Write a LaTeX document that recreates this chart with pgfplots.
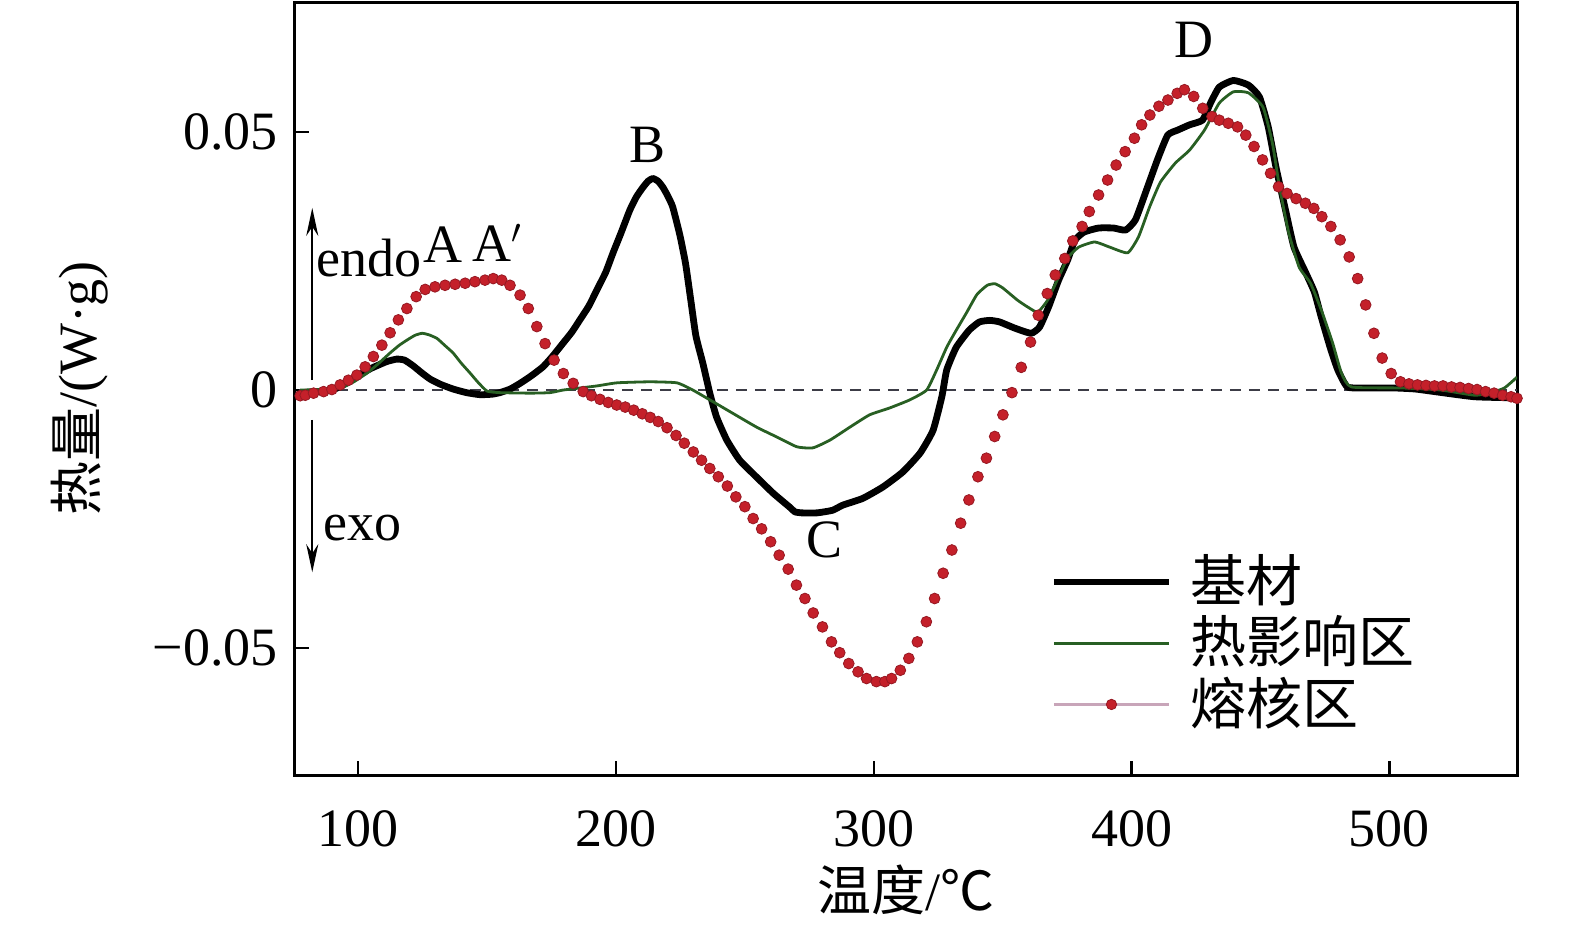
\documentclass[border=0pt]{standalone}
\usepackage{fontspec}
\setmainfont{Liberation Serif}
\newfontfamily\cjk{Noto Sans CJK SC}
\usepackage{pgfplots}
\pgfplotsset{compat=1.18}
\usetikzlibrary{arrows.meta}
\definecolor{grn}{RGB}{40,95,35}
\definecolor{reddot}{RGB}{196,32,42}
\definecolor{rededge}{RGB}{150,25,35}
\definecolor{mauve}{RGB}{200,165,185}
\definecolor{dashgray}{RGB}{60,60,70}

\pgfplotstableread{
T v
77.5 -0.0005
85 -0.0003
90 0.0
95 0.0012
100 0.0028
105 0.0042
111 0.0055
115 0.006
118 0.0058
121.3 0.0047
125 0.0032
128 0.0021
132 0.0011
136.8 0.0002
142 -0.0005
147.3 -0.0009
152 -0.0008
155 -0.0005
159 0.0002
162.8 0.0013
167 0.0027
171.7 0.0045
175.5 0.0066
179.5 0.0091
183 0.0113
186 0.0136
189.5 0.0163
192.6 0.0194
196 0.0228
198.8 0.0265
202 0.0305
205.4 0.0349
208 0.0375
210.5 0.0393
212.5 0.0405
214.3 0.041
216.3 0.0405
218.2 0.0393
220 0.0377
222 0.0355
224.8 0.030
227 0.0245
229 0.0175
231 0.0105
233.7 0.0052
236.4 -0.0006
239 -0.0052
243 -0.0097
248 -0.0136
254.6 -0.0169
261 -0.02
267.4 -0.0227
269.4 -0.0236
272 -0.0238
278 -0.0238
284 -0.0233
288 -0.0223
295.7 -0.021
303.5 -0.0188
311.2 -0.0159
318 -0.0122
323 -0.0078
326.4 -0.0013
328.3 0.0039
332 0.0083
337 0.0116
341 0.0132
345 0.0135
348.8 0.0132
354.7 0.012
361 0.011
364.3 0.0122
367.8 0.0161
371.7 0.0213
375.2 0.0252
378 0.029
381.5 0.0306
387.2 0.0314
393 0.0314
397.7 0.031
401.5 0.033
405.8 0.0388
410 0.0446
414 0.0494
418 0.0504
422.5 0.0514
427.5 0.0523
430.6 0.0556
434 0.0587
439.5 0.060
445.3 0.0591
449.6 0.0568
453 0.051
456 0.0432
459.7 0.0349
463 0.0277
467.4 0.0229
470.9 0.019
473.6 0.0141
477 0.0083
480 0.0039
483.7 0.0006
490.7 0.0004
502 0.0004
510 0.0002
519 -0.0004
533 -0.0013
547.7 -0.0015
549.5 -0.0015
}\base

\pgfplotstableread{
T v
77.5 0.0
85 0.0001
93 0.0004
98 0.0015
103.5 0.0033
108 0.0052
112.4 0.0072
116 0.0087
119 0.0097
122 0.0106
124.8 0.011
127.5 0.0107
130.6 0.010
133.5 0.0087
136.8 0.0072
140 0.0052
143.4 0.0033
146.5 0.0015
150 -0.0002
155 -0.0005
166.7 -0.0006
174.4 -0.0005
179.5 0.0
186 0.0004
192.6 0.0008
200.4 0.0014
213 0.0016
223.6 0.0014
229.8 0.0
236.4 -0.0019
245.3 -0.0045
254.6 -0.0072
262.4 -0.0091
270.2 -0.011
276.4 -0.0112
283 -0.0097
290.7 -0.0072
298.4 -0.0048
306 -0.0035
314 -0.0019
320.5 0.0
324.4 0.0039
328.3 0.0083
332 0.0116
336 0.015
340 0.0185
344 0.0203
347 0.0206
350 0.0198
355.8 0.0174
360 0.016
363.6 0.0151
367.4 0.0174
371.7 0.0219
375.2 0.0256
379.5 0.0277
385.7 0.0287
391.5 0.0277
398.5 0.0266
402.7 0.0297
407 0.0355
411.2 0.0403
417 0.044
422.5 0.0465
428.3 0.0504
434 0.0556
439.5 0.0578
445.3 0.0576
451 0.0548
454.6 0.0479
457.4 0.0393
461 0.0304
465 0.0238
469.4 0.0207
473.6 0.0155
478 0.0091
481.4 0.0033
485.3 0.0006
505 0.0004
520 0.0
533 -0.001
538.9 -0.0006
544.6 0.0004
549.5 0.0025
}\haz

\pgfplotstableread{
T v
77.5 -0.0011
79.5 -0.001
82.7 -0.0006
86.6 -0.0003
89.8 0.0001
93 0.001
96.2 0.0019
99.5 0.0029
102.7 0.0045
105.9 0.0065
109.2 0.0087
112.4 0.0111
115.6 0.0136
118.9 0.0158
122.5 0.0181
126 0.0195
129.8 0.020
133.7 0.0203
137.6 0.0205
141.5 0.0207
145.3 0.021
149.2 0.0213
152.4 0.0216
155.7 0.0213
158.9 0.0203
162.8 0.0184
166 0.0158
169.3 0.0123
172.5 0.009
176 0.0058
179.6 0.0032
183.4 0.0013
187.3 -0.0003
190.5 -0.0011
193.8 -0.0018
197 -0.0024
200.3 -0.0029
203.6 -0.0033
206.9 -0.0039
210.2 -0.0046
213.3 -0.0053
216.4 -0.0061
219.8 -0.0073
223.3 -0.0088
226.5 -0.0103
230 -0.012
233.2 -0.0136
236.4 -0.0152
239.7 -0.0168
243.2 -0.0186
246.5 -0.0207
250 -0.0226
253.2 -0.0249
256.5 -0.0269
260 -0.0294
263.3 -0.032
266.8 -0.0347
270 -0.0378
273.3 -0.0404
276.5 -0.0432
280.1 -0.0459
283.6 -0.0488
286.8 -0.0509
290.3 -0.053
293.9 -0.0546
297.2 -0.0559
301 -0.0565
304.3 -0.0565
306.9 -0.0559
310.3 -0.0543
313.6 -0.052
316.9 -0.0488
320.4 -0.0449
323.6 -0.0404
326.9 -0.0355
330.3 -0.031
333.7 -0.0258
336.9 -0.0213
340.4 -0.0168
343.7 -0.0132
346.9 -0.009
350.1 -0.0048
353.6 -0.0005
357.2 0.0044
360.8 0.0093
363.8 0.0145
367.3 0.0187
370.4 0.0223
374.1 0.0255
377.2 0.0289
380.8 0.0317
383.6 0.0346
387.2 0.0378
390.7 0.0407
394 0.0436
397.5 0.0462
401.1 0.0488
403.9 0.0514
407.1 0.0533
410.6 0.055
414.1 0.0562
417.7 0.0575
420.5 0.0582
424.1 0.0569
427.6 0.0546
431.2 0.053
434 0.0523
437.5 0.0517
441.1 0.051
444.3 0.0494
447.5 0.0472
450.8 0.0446
453.9 0.042
457 0.0394
460.3 0.0381
463.8 0.0371
467.4 0.0362
470.7 0.0352
473.8 0.0336
477.3 0.0317
480.9 0.0291
484.4 0.0258
487.7 0.0216
490.8 0.0165
494 0.011
497.2 0.0062
500.7 0.0032
504.3 0.0016
507.6 0.0012
510.9 0.001
514.2 0.0009
517.5 0.0008
520.8 0.0008
524.1 0.0006
527.4 0.0005
530.7 0.0003
534 0.0001
537.3 -0.0003
540.6 -0.0006
543.9 -0.001
547.2 -0.0013
549.5 -0.0016
}\fz

\begin{document}
\fontsize{27}{32}\selectfont
\begin{tikzpicture}
\begin{axis}[
  at={(0pt,0pt)}, anchor=south west,
  scale only axis, width=611pt, height=386.5pt,
  xmin=75.5, xmax=549.5, ymin=-0.0746, ymax=0.0752,
  clip mode=individual,
  axis line style={line width=1.5pt},
  xtick={100,200,300,400,500}, xticklabels={100,200,300,400,500},
  ytick={-0.05,0,0.05}, yticklabels={−0.05,0,0.05},
  tick align=inside, xtick pos=left, ytick pos=left,
  major tick length=7pt,
  every tick/.style={line width=1.2pt, black},
  xticklabel style={anchor=center, yshift=-27pt},
  yticklabel style={anchor=east, inner sep=0pt, xshift=-8.5pt},
  legend style={at={(axis description cs:0.618,0.286)}, anchor=north west,
    draw=none, fill=none, inner sep=0pt, row sep=3pt, column sep=9pt,
    font=\cjk\fontsize{28}{32}\selectfont,
    nodes={inner sep=0pt}},
  legend cell align=left,
  legend image code/.code={\draw[#1] (0pt,0pt) -- (57.5pt,0pt);},
]
\addplot[dashgray, line width=1pt, dash pattern=on 5.5pt off 4pt, forget plot] coordinates {(77,0) (549.5,0)};
\addplot[black, line width=3.4pt, smooth, tension=0.3, line join=round] table[x=T,y=v]{\base};
\addlegendentry{基材}
\addplot[grn, line width=1.4pt, smooth, tension=0.3, line join=round] table[x=T,y=v]{\haz};
\addlegendentry{热影响区}
\addplot[only marks, mark=*, mark size=2.7pt, mark options={fill=reddot, draw=rededge, line width=0.4pt},
  legend image code/.code={\draw[mauve, line width=1.1pt] (0pt,0pt) -- (57.5pt,0pt);
    \fill[reddot, draw=rededge, line width=0.4pt] (28.75pt,0pt) circle (2.6pt);}] table[x=T,y=v]{\fz};
\addlegendentry{熔核区}

\draw[line width=1.2pt, -{Stealth[length=14pt,width=6pt]}] (axis cs:82.2,0.0019) -- (axis cs:82.2,0.0353);
\draw[line width=1.2pt, -{Stealth[length=14pt,width=6pt]}] (axis cs:82.2,-0.0058) -- (axis cs:82.2,-0.0353);
\node[anchor=west, inner sep=0pt] at (axis cs:83.7,0.0256) {endo};
\node[anchor=west, inner sep=0pt] at (axis cs:86.4,-0.0267) {exo};
\node[inner sep=0pt] at (axis cs:133,0.0281) {A};
\node[inner sep=0pt] at (axis cs:154,0.0285) {A$^{\prime}$};
\node[inner sep=0pt] at (axis cs:212.4,0.0475) {B};
\node[inner sep=0pt] at (axis cs:281,-0.0291) {C};
\node[inner sep=0pt] at (axis cs:424.4,0.0678) {D};
\node[anchor=center] at (axis description cs:0.5,-0.1488) {{\cjk 温度}/{\cjk ℃}};
\node[anchor=center, rotate=90] at (axis description cs:-0.176,0.5) {{\cjk 热量}/(W·g)};
\end{axis}
\pgfresetboundingbox
\path (-147.5pt,-79.5pt) rectangle (640pt,387.5pt);
\end{tikzpicture}
\end{document}
